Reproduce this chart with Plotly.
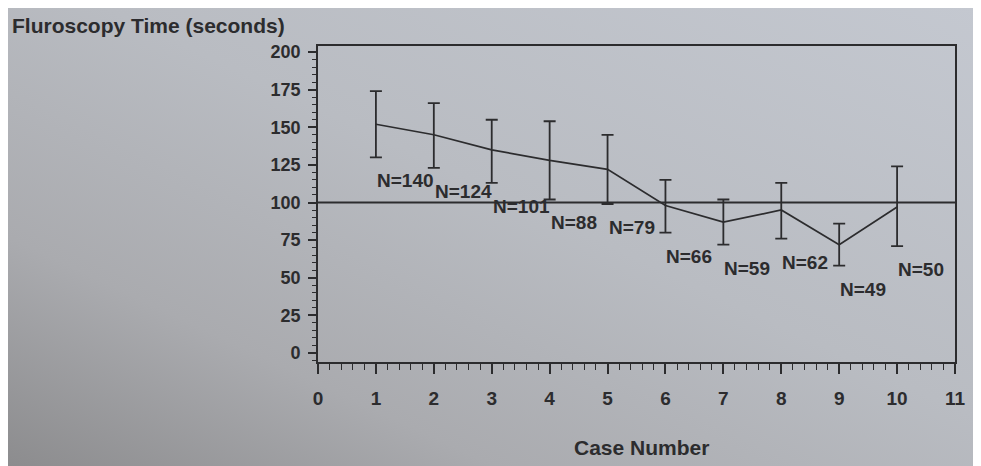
import base64
import plotly.graph_objects as go

case_number = [1, 2, 3, 4, 5, 6, 7, 8, 9, 10]
mean_time = [152, 145, 135, 128, 122, 98, 87, 95, 72, 97]
upper_time = [174, 166, 155, 154, 145, 115, 102, 113, 86, 124]
lower_time = [130, 123, 113, 102, 99, 80, 72, 76, 58, 71]
n_counts = [140, 124, 101, 88, 79, 66, 59, 62, 49, 50]
reference_value = 100
y_ticks = [0, 25, 50, 75, 100, 125, 150, 175, 200]
x_ticks = list(range(0, 12))

# figure size (page body adds an 8px margin on top/left)
W, H = 973, 458
L, R, T, B = 310, 26, 38, 104
pw, ph = W - L - R, H - T - B
OFF = 8

def px(xs):  # screen x -> paper x
    return (xs - OFF - L) / pw

def py(ys):  # screen y -> paper y
    return (H - B - (ys - OFF)) / ph

ink = "#2c2c2e"
font_fam = "Liberation Sans, Arial, sans-serif"

svg = ('<svg xmlns="http://www.w3.org/2000/svg" width="200" height="100" '
       'viewBox="0 0 200 100" preserveAspectRatio="none">'
       '<defs><linearGradient id="g" x1="1" y1="0" x2="0" y2="1">'
       '<stop offset="0" stop-color="#c4c8d0"/>'
       '<stop offset="0.45" stop-color="#b9bcc2"/>'
       '<stop offset="0.75" stop-color="#aaabaf"/>'
       '<stop offset="1" stop-color="#8c8c8e"/>'
       '</linearGradient></defs>'
       '<rect width="200" height="100" fill="url(#g)"/></svg>')
bg_src = "data:image/svg+xml;base64," + base64.b64encode(svg.encode()).decode()

fig = go.Figure()
fig.add_trace(go.Scatter(
    x=case_number, y=mean_time, mode="lines",
    line=dict(color=ink, width=1.7),
    error_y=dict(type="data", symmetric=False,
                 array=[u - m for u, m in zip(upper_time, mean_time)],
                 arrayminus=[m - l for m, l in zip(mean_time, lower_time)],
                 color=ink, thickness=1.8, width=6),
    showlegend=False, hoverinfo="skip"))

fig.add_layout_image(source=bg_src, xref="paper", yref="paper",
                     x=px(8), y=py(8), sizex=px(981) - px(8), sizey=py(8) - py(466),
                     xanchor="left", yanchor="top", sizing="stretch", layer="below")

fig.add_shape(type="line", xref="x", yref="y", x0=0, x1=11,
              y0=reference_value, y1=reference_value,
              line=dict(color=ink, width=1.8))

for xc, lo, n in zip(case_number, lower_time, n_counts):
    fig.add_annotation(x=xc, y=lo, text=f"N={n}", showarrow=False,
                       xanchor="left", yanchor="top", xshift=-1, yshift=-11,
                       font=dict(family=font_fam, size=19, color=ink, weight="bold"))

fig.add_annotation(x=px(10), y=py(25), xref="paper", yref="paper",
                   text="Fluroscopy Time (seconds)", showarrow=False,
                   xanchor="left", yanchor="middle",
                   font=dict(family=font_fam, size=21, color=ink, weight="bold"))
fig.add_annotation(x=px(641), y=py(447), xref="paper", yref="paper",
                   text="Case Number", showarrow=False,
                   xanchor="center", yanchor="middle",
                   font=dict(family=font_fam, size=21, color=ink, weight="bold"))

fig.update_layout(
    width=W, height=H,
    margin=dict(l=L, r=R, t=T, b=B, pad=0),
    paper_bgcolor="#b3b5ba", plot_bgcolor="rgba(0,0,0,0)",
    font=dict(family=font_fam, color=ink),
)
fig.update_xaxes(range=[0, 11], tickvals=x_ticks, showgrid=False, zeroline=False,
                 showline=True, linecolor=ink, linewidth=1.8, mirror=True,
                 ticks="outside", ticklen=10, tickwidth=1.6, tickcolor=ink,
                 ticklabelstandoff=8,
                 minor=dict(dtick=0.2, ticks="outside", ticklen=6, tickwidth=1.3, tickcolor=ink),
                 tickfont=dict(family=font_fam, size=19, color=ink, weight="bold"))
fig.update_yaxes(range=[-6, 204], tickvals=y_ticks, showgrid=False, zeroline=False,
                 showline=True, linecolor=ink, linewidth=1.8, mirror=True,
                 ticks="outside", ticklen=8, tickwidth=1.6, tickcolor=ink,
                 ticklabelstandoff=4,
                 minor=dict(dtick=5, ticks="outside", ticklen=4, tickwidth=1.3, tickcolor=ink),
                 tickfont=dict(family=font_fam, size=18, color=ink, weight="bold"))

fig.write_html("out.html")
